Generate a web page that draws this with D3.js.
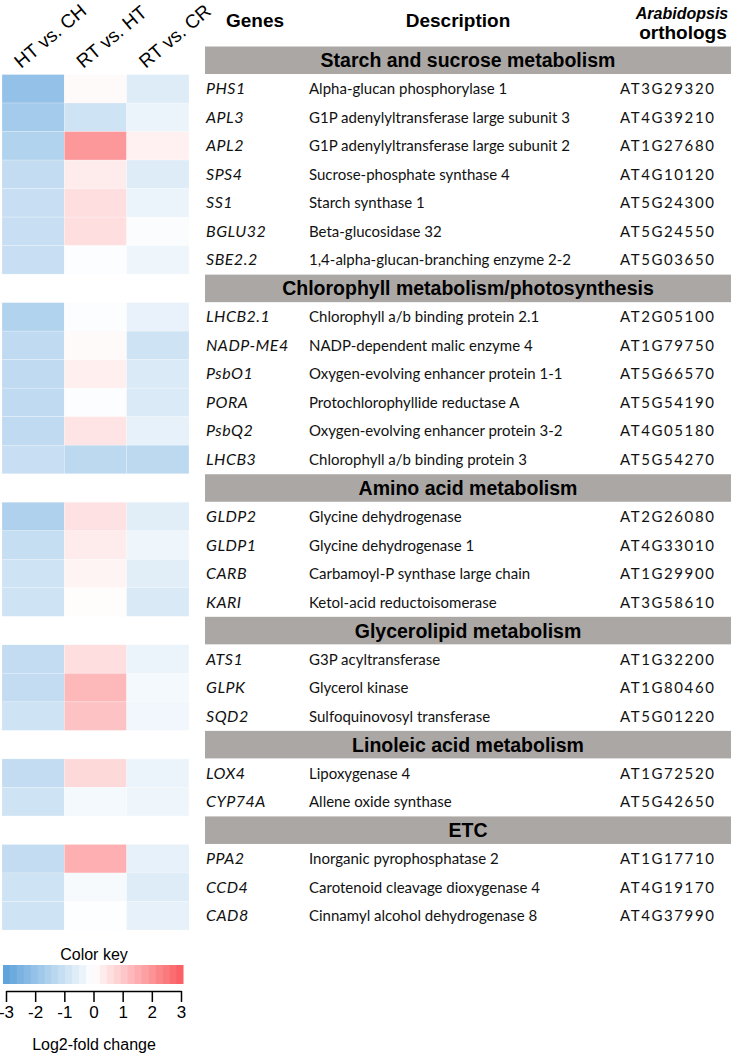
<!DOCTYPE html>
<html>
<head>
<meta charset="utf-8">
<script src="https://cdn.jsdelivr.net/npm/d3@7"></script>
<style>
  body { margin: 0; background: #fff; }
  svg { display: block; }
</style>
</head>
<body>
<div id="wrapper"></div>
<script>

// ---- data ----
const comparisons = ["HT vs. CH", "RT vs. HT", "RT vs. CR"]

const groups = [
  "Starch and sucrose metabolism",
  "Chlorophyll metabolism/photosynthesis",
  "Amino acid metabolism",
  "Glycerolipid metabolism",
  "Linoleic acid metabolism",
  "ETC",
]
const groupSizes = [7, 6, 4, 3, 2, 3]

const genes = [
  "PHS1", "APL3", "APL2", "SPS4", "SS1", "BGLU32", "SBE2.2",
  "LHCB2.1", "NADP-ME4", "PsbO1", "PORA", "PsbQ2", "LHCB3",
  "GLDP2", "GLDP1", "CARB", "KARI",
  "ATS1", "GLPK", "SQD2",
  "LOX4", "CYP74A",
  "PPA2", "CCD4", "CAD8",
]
const descriptions = [
  "Alpha-glucan phosphorylase 1",
  "G1P adenylyltransferase large subunit 3",
  "G1P adenylyltransferase large subunit 2",
  "Sucrose-phosphate synthase 4",
  "Starch synthase 1",
  "Beta-glucosidase 32",
  "1,4-alpha-glucan-branching enzyme 2-2",
  "Chlorophyll a/b binding protein 2.1",
  "NADP-dependent malic enzyme 4",
  "Oxygen-evolving enhancer protein 1-1",
  "Protochlorophyllide reductase A",
  "Oxygen-evolving enhancer protein 3-2",
  "Chlorophyll a/b binding protein 3",
  "Glycine dehydrogenase",
  "Glycine dehydrogenase 1",
  "Carbamoyl-P synthase large chain",
  "Ketol-acid reductoisomerase",
  "G3P acyltransferase",
  "Glycerol kinase",
  "Sulfoquinovosyl transferase",
  "Lipoxygenase 4",
  "Allene oxide synthase",
  "Inorganic pyrophosphatase 2",
  "Carotenoid cleavage dioxygenase 4",
  "Cinnamyl alcohol dehydrogenase 8",
]
const orthologs = [
  "AT3G29320", "AT4G39210", "AT1G27680", "AT4G10120", "AT5G24300", "AT5G24550", "AT5G03650",
  "AT2G05100", "AT1G79750", "AT5G66570", "AT5G54190", "AT4G05180", "AT5G54270",
  "AT2G26080", "AT4G33010", "AT1G29900", "AT3G58610",
  "AT1G32200", "AT1G80460", "AT5G01220",
  "AT1G72520", "AT5G42650",
  "AT1G17710", "AT4G19170", "AT4G37990",
]

// log2 fold change
const htVsCh = [
  -1.95, -1.65, -1.4, -1.1, -1.0, -1.0, -1.0,
  -1.4, -1.15, -1.15, -1.15, -1.15, -1.0,
  -1.45, -1.05, -0.9, -0.9,
  -1.1, -1.1, -0.9,
  -1.1, -0.9,
  -1.1, -0.9, -0.9,
]
const rtVsHt = [
  0.1, -0.9, 1.9, 0.35, 0.6, 0.6, -0.05,
  -0.05, 0.1, 0.3, -0.05, 0.5, -1.2,
  0.55, 0.35, 0.2, 0.05,
  0.6, 1.3, 1.1,
  0.7, -0.2,
  1.45, -0.15, -0.03,
]
const rtVsCr = [
  -0.6, -0.35, 0.25, -0.6, -0.35, -0.1, -0.3,
  -0.4, -0.9, -0.65, -0.65, -0.45, -1.2,
  -0.55, -0.3, -0.55, -0.7,
  -0.35, -0.2, -0.25,
  -0.35, -0.3,
  -0.45, -0.6, -0.45,
]
const seriesValues = [htVsCh, rtVsHt, rtVsCr]

const keyTicks = [-3, -2, -1, 0, 1, 2, 3]

// ---- layout ----
const dimensions = {
  width: 731,
  height: 1054,
  tableTop: 46,
  tableBottom: 930,
  heatLeft: 2,
  heatRight: 189,
  tableLeft: 205,
}

// one row per group header plus one per gene
const rows = []
let g = 0
groups.forEach((name, i) => {
  rows.push({ type: "group", name })
  for (let k = 0; k < groupSizes[i]; k++) {
    rows.push({ type: "gene", idx: g })
    g++
  }
})

const wrapper = d3.select("#wrapper")
  .append("svg")
    .attr("width", dimensions.width)
    .attr("height", dimensions.height)

const yScale = d3.scaleBand()
  .domain(d3.range(rows.length))
  .range([dimensions.tableTop, dimensions.tableBottom])

const xScale = d3.scaleBand()
  .domain(comparisons)
  .range([dimensions.heatLeft, dimensions.heatRight])

const colorScale = d3.scaleLinear()
  .domain([-3, 0, 3])
  .range(["#5aa0da", "#ffffff", "#fa5a5f"])
  .clamp(true)

const narrow = "'Liberation Sans Narrow', 'Arial Narrow', 'Liberation Sans', Arial, sans-serif"
const sans = "'Liberation Sans', Arial, sans-serif"
const body = "Lato, 'Open Sans', sans-serif"

// ---- heatmap ----
const cells = []
rows.forEach((r, ri) => {
  if (r.type !== "gene") return
  comparisons.forEach((c, ci) => {
    cells.push({ row: ri, comp: c, value: seriesValues[ci][r.idx] })
  })
})

wrapper.append("g")
  .selectAll("rect")
  .data(cells)
  .join("rect")
    .attr("x", d => xScale(d.comp))
    .attr("y", d => yScale(d.row))
    .attr("width", xScale.bandwidth())
    .attr("height", yScale.bandwidth())
    .attr("fill", d => colorScale(d.value))
    .attr("stroke", "#ffffff")
    .attr("stroke-opacity", 0.35)
    .attr("stroke-width", 0.6)

// rotated column labels
wrapper.append("g")
  .selectAll("text")
  .data(comparisons)
  .join("text")
    .attr("transform", d => `translate(${xScale(d) + 19},${69}) rotate(-40)`)
    .text(d => d)
    .style("font-family", sans)
    .style("font-size", "19px")
    .style("fill", "#000")

// ---- table ----
const tableMid = (dimensions.tableLeft + dimensions.width) / 2

wrapper.append("text").attr("x", 255).attr("y", 27).attr("text-anchor", "middle")
  .text("Genes").style("font-family", narrow).style("font-weight", "bold").style("font-size", "19px")
wrapper.append("text").attr("x", 458).attr("y", 27).attr("text-anchor", "middle")
  .text("Description").style("font-family", narrow).style("font-weight", "bold").style("font-size", "19px")
wrapper.append("text").attr("x", 682).attr("y", 19).attr("text-anchor", "middle")
  .text("Arabidopsis").style("font-family", narrow).style("font-weight", "bold").style("font-style", "italic").style("font-size", "16px")
wrapper.append("text").attr("x", 683).attr("y", 39).attr("text-anchor", "middle")
  .text("orthologs").style("font-family", narrow).style("font-weight", "bold").style("font-size", "19px")

const groupRows = rows.map((r, i) => ({ ...r, i })).filter(r => r.type === "group")
const geneRows = rows.map((r, i) => ({ ...r, i })).filter(r => r.type === "gene")

const groupG = wrapper.append("g")
groupG.selectAll("rect")
  .data(groupRows)
  .join("rect")
    .attr("x", dimensions.tableLeft)
    .attr("y", d => yScale(d.i) + 0.5)
    .attr("width", dimensions.width - dimensions.tableLeft)
    .attr("height", yScale.bandwidth() - 1)
    .attr("fill", "#aba7a5")
groupG.selectAll("text")
  .data(groupRows)
  .join("text")
    .attr("x", tableMid)
    .attr("y", d => yScale(d.i) + yScale.bandwidth() / 2 + 7)
    .attr("text-anchor", "middle")
    .text(d => d.name)
    .style("font-family", narrow)
    .style("font-weight", "bold")
    .style("font-size", "19.5px")

const geneG = wrapper.append("g")
  .style("font-family", body)
  .style("font-size", "15px")
  .style("fill", "#111")

geneG.selectAll(".gene")
  .data(geneRows)
  .join("text")
    .attr("class", "gene")
    .attr("x", 206)
    .attr("y", d => yScale(d.i) + yScale.bandwidth() / 2 + 5.5)
    .style("font-style", "italic")
    .style("font-size", "16px")
    .style("letter-spacing", "0.5px")
    .text(d => genes[d.idx])
geneG.selectAll(".desc")
  .data(geneRows)
  .join("text")
    .attr("class", "desc")
    .attr("x", 309)
    .attr("y", d => yScale(d.i) + yScale.bandwidth() / 2 + 5.5)
    .text(d => descriptions[d.idx])
geneG.selectAll(".orth")
  .data(geneRows)
  .join("text")
    .attr("class", "orth")
    .attr("x", 620)
    .attr("y", d => yScale(d.i) + yScale.bandwidth() / 2 + 5.5)
    .style("letter-spacing", "1.6px")
    .text(d => orthologs[d.idx])

// ---- colour key ----
const keyScale = d3.scaleLinear().domain([-3, 3]).range([6, 181])
const keySteps = d3.range(-3, 3.001, 6 / 26)

const keyG = wrapper.append("g")
keyG.selectAll("rect")
  .data(keySteps.slice(0, -1))
  .join("rect")
    .attr("x", (d, i) => 3 + i * (180 / (keySteps.length - 1)))
    .attr("y", 965)
    .attr("width", 180 / (keySteps.length - 1) + 0.5)
    .attr("height", 19)
    .attr("fill", (d, i) => colorScale((d + keySteps[i + 1]) / 2))

keyG.append("text").attr("x", 94).attr("y", 960).attr("text-anchor", "middle")
  .text("Color key").style("font-family", sans).style("font-size", "16px")

const keyAxis = keyG.append("g")
  .attr("transform", "translate(0,991)")
  .call(d3.axisBottom(keyScale).tickValues(keyTicks).tickSize(11).tickSizeOuter(0).tickFormat(d3.format("d")))
keyAxis.select(".domain").attr("stroke", "#000").attr("stroke-width", 1.5)
keyAxis.selectAll(".tick line").attr("stroke", "#000").attr("stroke-width", 1.5)
keyAxis.selectAll(".tick text")
  .attr("y", 15)
  .style("font-family", sans)
  .style("font-size", "17px")
  .style("fill", "#000")
  .text(d => d < 0 ? "-" + Math.abs(d) : d)

keyG.append("text").attr("x", 94).attr("y", 1050).attr("text-anchor", "middle")
  .text("Log2-fold change").style("font-family", sans).style("font-size", "16px")

</script>
</body>
</html>
